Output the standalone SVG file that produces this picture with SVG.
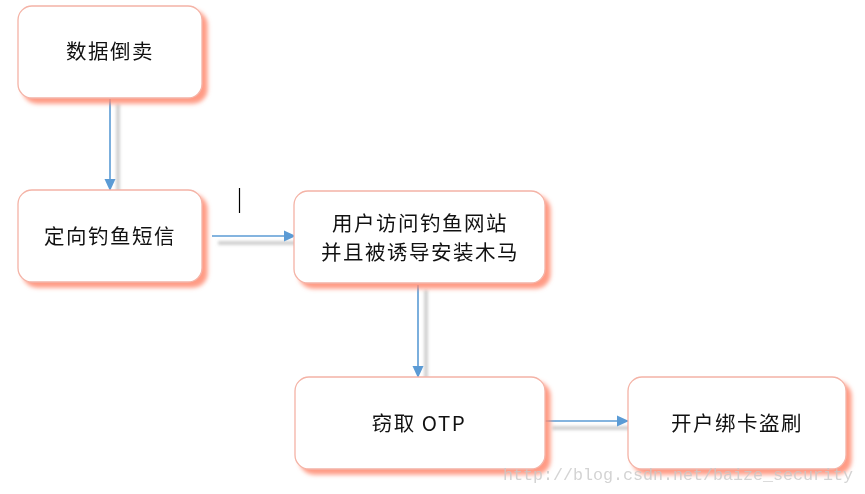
<svg xmlns="http://www.w3.org/2000/svg" width="865" height="494" viewBox="0 0 865 494">
<style>
.box{fill:#fff;stroke:#F4B3A6;stroke-width:1.3}
.lbl{font-family:"Noto Sans CJK SC","Liberation Sans",sans-serif;font-size:20.5px;fill:#111;text-anchor:middle;letter-spacing:1.5px}
.con{stroke:#5B9BD5;stroke-width:1.6;fill:none}
.sh{stroke:#999;stroke-width:4;opacity:0.45;fill:none}
</style>
<defs>
<filter id="ns" x="-10%" y="-10%" width="130%" height="130%">
<feFlood flood-color="#FF8A70" flood-opacity="0.85"/>
<feComposite in2="SourceAlpha" operator="in"/>
<feOffset dx="5" dy="5"/>
<feGaussianBlur stdDeviation="2"/>
<feMerge><feMergeNode/><feMergeNode in="SourceGraphic"/></feMerge>
</filter>
<filter id="bl" x="-50%" y="-50%" width="200%" height="200%"><feGaussianBlur stdDeviation="1.5"/></filter>
<marker id="ah" markerWidth="12" markerHeight="12" refX="11" refY="6" orient="auto" markerUnits="userSpaceOnUse">
<path d="M0,0.5 L12,6 L0,11.5 Z" fill="#5B9BD5"/>
</marker>
</defs>
<g id="connectors">
<g filter="url(#bl)">
<line class="sh" x1="118" y1="104" x2="118" y2="194"/>
<line class="sh" x1="218" y1="243" x2="298" y2="243"/>
<line class="sh" x1="426" y1="290" x2="426" y2="380"/>
<line class="sh" x1="552" y1="428" x2="632" y2="428"/>
</g>
<line class="con" x1="110" y1="99" x2="110" y2="190" marker-end="url(#ah)"/>
<line class="con" x1="212" y1="236" x2="295" y2="236" marker-end="url(#ah)"/>
<line class="con" x1="418" y1="285" x2="418" y2="377" marker-end="url(#ah)"/>
<line class="con" x1="545" y1="421" x2="628" y2="421" marker-end="url(#ah)"/>
</g>
<g id="n1"><rect class="box" filter="url(#ns)" x="18" y="6" width="184" height="92" rx="14"/><text class="lbl" x="110" y="59">数据倒卖</text></g>
<g id="n2"><rect class="box" filter="url(#ns)" x="18" y="190" width="184" height="92" rx="14"/><text class="lbl" x="110" y="244">定向钓鱼短信</text></g>
<g id="n3"><rect class="box" filter="url(#ns)" x="294" y="191" width="251" height="92" rx="14"/><text class="lbl" x="420" y="231">用户访问钓鱼网站</text><text class="lbl" x="420" y="260">并且被诱导安装木马</text></g>
<g id="n4"><rect class="box" filter="url(#ns)" x="295" y="377" width="250" height="92" rx="14"/><text class="lbl" x="419" y="431">窃取 OTP</text></g>
<g id="n5"><rect class="box" filter="url(#ns)" x="628" y="377" width="218" height="92" rx="14"/><text class="lbl" x="737" y="431">开户绑卡盗刷</text></g>
<line x1="239.5" y1="188" x2="239.5" y2="213" stroke="#000" stroke-width="1.2"/>
<text x="503" y="480" font-family="Liberation Mono, monospace" font-size="16.7" fill="#c8c8c8" fill-opacity="0.8" textLength="350">http://blog.csdn.net/baize_security</text>
</svg>
